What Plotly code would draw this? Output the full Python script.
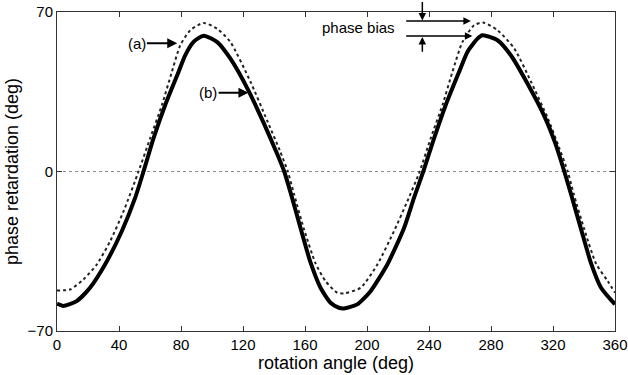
import plotly.graph_objects as go

# Curve (a)/(b) readings from the picture
solid_x = [0, 4, 12.7, 21.3, 31, 41.8, 50.4, 55.8, 62.3, 69.8, 78.4, 82.7, 88.1, 94.6,
           103.2, 111.8, 123.7, 133.4, 142, 146.6, 150.8, 157.1, 163.5, 170, 176.5, 181.8,
           185.1, 193.7, 202.3, 213.1, 223.9, 230.3, 236.3, 243.3, 250.8, 259.4, 264.8,
           271.3, 274.5, 284.2, 292.8, 303.6, 314.4, 321.9, 327.3, 331.6, 338.1, 344.5,
           351, 360]
solid_y = [-58.0, -59.0, -56.9, -51.0, -40.8, -26.2, -11.6, 0, 14.6, 29.2, 43.7, 51, 56.9,
           59.6, 56.9, 49.6, 35.3, 21.2, 7.8, 0, -9.5, -24.8, -39.8, -51, -57.6, -59.8,
           -60.1, -58.3, -52.5, -40.8, -24.8, -11.6, 0, 14.6, 29.2, 43.7, 52.5, 58.3, 59.8,
           57.6, 51, 38.5, 24.3, 11.6, 0, -9.9, -25.3, -40.2, -51, -58.3]

dotted_x = [0, 8.4, 17, 25.7, 34.3, 42.9, 52.6, 60.1, 67.7, 74.1, 79.5, 86, 94.5, 103.2,
            111.8, 124.8, 135.6, 144.1, 148.9, 152.8, 159.2, 166.8, 173.2, 180.8, 185.1,
            195.9, 206.7, 217.4, 226, 234, 241.1, 248.7, 255.1, 261.6, 269.1, 274.8,
            284.2, 295, 305.8, 316.5, 324, 329.5, 333.3, 340.2, 347.8, 355.3, 360]
dotted_y = [-52.2, -51.8, -47.4, -40.8, -30.6, -17.5, 0, 14.6, 29.2, 43.7, 55.4, 62, 65.2,
            62.7, 56.9, 39.4, 22.3, 8.6, 0, -9.6, -25.0, -40.3, -48.1, -53.2, -53.5, -51,
            -40.8, -26.2, -13.1, 0, 14.6, 29.2, 43.7, 56.9, 64.2, 65.4, 62, 54, 39.4, 23.6,
            10.4, 0, -9.7, -25.4, -40.5, -48.1, -53.2]

x_ticks = [0, 40, 80, 120, 160, 200, 240, 280, 320, 360]
y_ticks = [-70, 0, 70]
y_tick_text = ["\u221270", "0", "70"]

FONT = "Liberation Sans, Arial, Helvetica, sans-serif"
AX = "#333333"

fig = go.Figure()
fig.add_trace(go.Scatter(x=dotted_x, y=dotted_y, mode="lines", name="(a)",
                         line=dict(color="#222222", width=2, dash="dot", shape="spline", smoothing=0.6)))
fig.add_trace(go.Scatter(x=solid_x, y=solid_y, mode="lines", name="(b)",
                         line=dict(color="black", width=4, shape="spline", smoothing=0.6)))

anns = []
def arrow(hx, hy, tx, ty, w):
    anns.append(dict(x=hx, y=hy, ax=tx, ay=ty, xref="x", yref="y", axref="x", ayref="y",
                     text="", showarrow=True, arrowhead=2, arrowsize=1, arrowwidth=w,
                     arrowcolor="black", standoff=0, startstandoff=0))

def label(x, y, t, size):
    anns.append(dict(x=x, y=y, xref="x", yref="y", text=t, showarrow=False,
                     font=dict(family=FONT, size=size, color="black")))

label(51.5, 56.3, "(a)", 15)
arrow(77.6, 56.3, 57.0, 56.3, 2)
label(97.5, 34.6, "(b)", 15)
arrow(123.5, 34.6, 103.3, 34.6, 2)
label(194.5, 63.4, "phase bias", 15)
arrow(267.0, 66.1, 224.3, 66.1, 1.5)
arrow(268.0, 59.5, 224.3, 59.5, 1.5)
arrow(235.7, 66.3, 235.7, 75.0, 1.5)
arrow(235.7, 59.0, 235.7, 51.9, 1.5)

fig.update_layout(
    width=628, height=375,
    margin=dict(l=57, r=13, t=12, b=44),
    paper_bgcolor="white", plot_bgcolor="white",
    showlegend=False,
    font=dict(family=FONT, size=15, color="black"),
    annotations=anns,
    xaxis=dict(range=[0, 360], tickvals=x_ticks, ticks="inside", ticklen=5,
               tickcolor=AX, showline=True, linecolor=AX, linewidth=1, mirror="allticks",
               showgrid=False, zeroline=False, automargin=False,
               tickfont=dict(family=FONT, size=15, color="black"),
               title=dict(text="rotation angle (deg)", standoff=0,
                          font=dict(family=FONT, size=18, color="black"))),
    yaxis=dict(range=[-70, 70], tickvals=y_ticks, ticktext=y_tick_text, ticks="inside",
               ticklen=5, tickcolor=AX, showline=True, linecolor=AX, linewidth=1,
               mirror="allticks", showgrid=True, gridcolor="#888888", griddash="dot",
               gridwidth=1, zeroline=False, automargin=False,
               tickfont=dict(family=FONT, size=15, color="black"),
               title=dict(text="phase retardation (deg)", standoff=4,
                          font=dict(family=FONT, size=18, color="black"))),
)

fig.write_html("out.html")
